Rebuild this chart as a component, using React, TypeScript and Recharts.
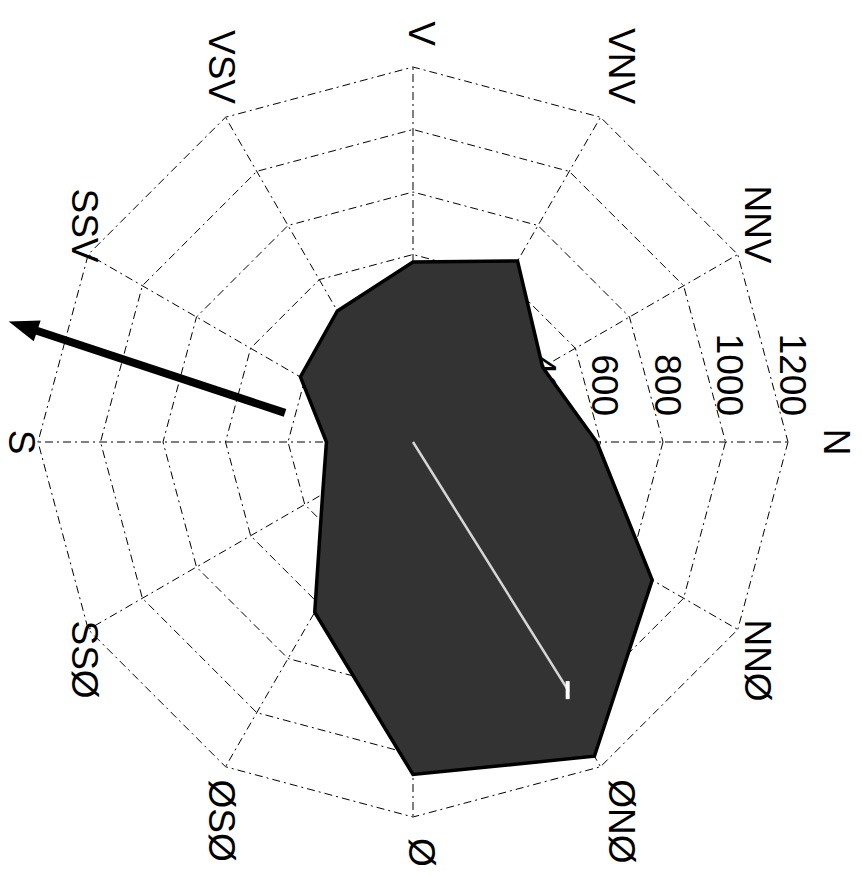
import React from 'react';
import { RadarChart, Radar, PolarGrid, PolarAngleAxis, PolarRadiusAxis } from 'recharts';

// Compass sectors (Danish/Norwegian labels), clockwise from N
const directions = ['N', 'NNØ', 'ØNØ', 'Ø', 'ØSØ', 'SSØ', 'S', 'SSV', 'VSV', 'V', 'VNV', 'NNV'];
const counts = [588, 884, 1161, 1064, 629, 334, 277, 416, 484, 576, 669, 479];
const radiusTicks = [0, 200, 400, 600, 800, 1000, 1200];
// Annotations (bearing in degrees clockwise from N, length in axis units)
const bigArrow = { fromBearing: 192.8, fromValue: 420, toBearing: 196.6, toValue: 1350 };
const resultant = { bearing: 58, value: 940 };

const data = directions.map((d, i) => ({ dir: d, value: counts[i] }));

const W = 862;
const H = 875;
const CX = 413;
const CY = 442;
const R = 375;
const MAX = 1200;
const FS = 37;
const FONT = '"Liberation Sans", Arial, Helvetica, sans-serif';

const toXY = (bearing: number, value: number) => {
  const a = (bearing * Math.PI) / 180;
  const r = (value / MAX) * R;
  return { x: CX + r * Math.cos(a), y: CY + r * Math.sin(a) };
};

const charW: Record<string, number> = { 'Ø': 0.778, N: 0.722, S: 0.667, V: 0.667 };

const AngleTick = (props: any) => {
  const { x, y, payload } = props;
  const a = Math.atan2(y - CY, x - CX);
  const c = Math.cos(a);
  const s = Math.sin(a);
  const label = String(payload.value);
  let len = 0;
  for (const ch of label) len += (charW[ch] ?? 0.7) * FS;
  const ac = Math.abs(c);
  const Rx = ac > 0.99 ? 415 : ac > 0.7 ? 388 : 400;
  const Ry = 396;
  let px = CX + 8 + Rx * c;
  px = Math.max(px, 21);
  const py = CY + Ry * s + (s * len) / 2;
  return (
    <text
      x={px}
      y={py}
      transform={`rotate(90 ${px} ${py})`}
      textAnchor="middle"
      dominantBaseline="central"
      fontFamily={FONT}
      fontSize={FS}
      fill="#000"
    >
      {label}
    </text>
  );
};

const RadiusTick = (props: any) => {
  const { x, y, payload } = props;
  const px = x + 4;
  const py = y - 26;
  return (
    <text
      x={px}
      y={py}
      transform={`rotate(90 ${px} ${py})`}
      textAnchor="end"
      dominantBaseline="central"
      fontFamily={FONT}
      fontSize={FS}
      fill="#000"
    >
      {payload.value}
    </text>
  );
};

const Overlay = () => {
  const p1 = toXY(bigArrow.fromBearing, bigArrow.fromValue);
  const p2 = toXY(bigArrow.toBearing, bigArrow.toValue);
  const dx = p2.x - p1.x;
  const dy = p2.y - p1.y;
  const L = Math.hypot(dx, dy);
  const ux = dx / L;
  const uy = dy / L;
  const headL = 30;
  const headW = 11;
  const bx = p2.x - ux * headL;
  const by = p2.y - uy * headL;
  const head = `${p2.x},${p2.y} ${bx - uy * headW},${by + ux * headW} ${bx + uy * headW},${by - ux * headW}`;
  const w0 = toXY(resultant.bearing, 0);
  const w1 = toXY(resultant.bearing, resultant.value);
  return (
    <svg width={W} height={H} style={{ position: 'absolute', left: 0, top: 0, pointerEvents: 'none' }}>
      <line x1={w0.x} y1={w0.y} x2={w1.x} y2={w1.y} stroke="#ffffff" strokeWidth={2.5} strokeOpacity={0.8} />
      <line x1={w1.x - 1} y1={w1.y - 10} x2={w1.x - 1} y2={w1.y + 8} stroke="#ffffff" strokeWidth={4} />
      <line x1={p1.x} y1={p1.y} x2={bx + ux * 2} y2={by + uy * 2} stroke="#000" strokeWidth={8} />
      <polygon points={head} fill="#000" />
    </svg>
  );
};

const chartProps = {
  width: W,
  height: H,
  data,
  cx: CX,
  cy: CY,
  outerRadius: R,
  startAngle: 0,
  endAngle: -360,
  margin: { top: 0, right: 0, bottom: 0, left: 0 },
};

export default function App() {
  return (
    <div style={{ position: 'absolute', left: 0, top: 0, width: W, height: H, background: '#fff', overflow: 'hidden' }}>
      {/* bottom layer: grid and radial tick labels */}
      <div style={{ position: 'absolute', left: 0, top: 0 }}>
        <RadarChart {...chartProps}>
          <PolarGrid gridType="polygon" stroke="#000" strokeWidth={1} strokeDasharray="8 4 2 4" />
          <PolarAngleAxis dataKey="dir" tick={false} tickLine={false} axisLine={false} />
          <PolarRadiusAxis
            angle={0}
            domain={[0, MAX]}
            ticks={radiusTicks}
            tickCount={7}
            axisLine={false}
            tickLine={false}
            tick={<RadiusTick />}
          />
          <Radar dataKey="value" fill="none" stroke="none" dot={false} isAnimationActive={false} />
        </RadarChart>
      </div>
      {/* top layer: the frequency polygon and compass labels */}
      <div style={{ position: 'absolute', left: 0, top: 0 }}>
        <RadarChart {...chartProps}>
          <PolarAngleAxis dataKey="dir" tick={<AngleTick />} tickLine={false} axisLine={false} />
          <PolarRadiusAxis angle={0} domain={[0, MAX]} ticks={radiusTicks} axisLine={false} tickLine={false} tick={false} />
          <Radar
            dataKey="value"
            fill="#333333"
            fillOpacity={1}
            stroke="#000"
            strokeWidth={3.5}
            dot={false}
            isAnimationActive={false}
          />
        </RadarChart>
      </div>
      <Overlay />
    </div>
  );
}
